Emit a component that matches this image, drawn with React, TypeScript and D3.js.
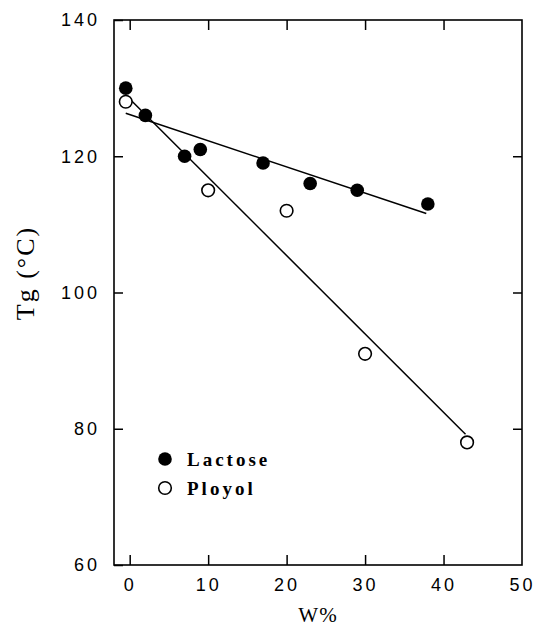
import React, { useEffect, useRef } from "react";
import * as d3 from "d3";

// values
const lactoseW = [-0.5, 2, 7, 9, 17, 23, 29, 38];
const lactoseTg = [130, 126, 120, 121, 119, 116, 115, 113];
const polyolW = [-0.5, 10, 20, 30, 43];
const polyolTg = [128, 115, 112, 91, 78];

// fitted straight lines, endpoints as drawn
const lactoseFitW = [-0.5, 37.8];
const lactoseFitTg = [126.3, 111.6];
const polyolFitW = [-0.5, 42.8];
const polyolFitTg = [129, 79.2];

const xTicks = [0, 10, 20, 30, 40, 50];
const yTicks = [60, 80, 100, 120, 140];
const legendLabels = ["Lactose", "Ployol"];

const W = 536;
const H = 632;
const left = 114;
const right = 522;
const top = 20;
const bottom = 565;

const App = () => {
  const svgRef = useRef<SVGSVGElement>(null);

  useEffect(() => {
    const svg = d3.select(svgRef.current);
    svg.selectAll("*").remove();

    const x = d3.scaleLinear().domain([-2, 50]).range([left, right]);
    const y = d3.scaleLinear().domain([60, 140]).range([bottom, top]);

    const tickFont = "'Liberation Sans', Arial, sans-serif";

    // bottom axis with labels, ticks pointing in
    const gx = svg
      .append("g")
      .attr("transform", `translate(0, ${bottom})`)
      .call(d3.axisBottom(x).tickValues(xTicks).tickSize(-10).tickPadding(13).tickFormat(d3.format("d")));
    gx.select(".domain").remove();
    gx.selectAll("line").attr("stroke", "#000").attr("stroke-width", 1.5);
    gx.selectAll("text")
      .attr("font-family", tickFont)
      .attr("font-size", 18)
      .attr("letter-spacing", 3)
      .attr("fill", "#000");
    gx.selectAll(".tick").filter((d) => d === 50).select("line").remove();

    const gy = svg
      .append("g")
      .attr("transform", `translate(${left}, 0)`)
      .call(d3.axisLeft(y).tickValues(yTicks).tickSize(-9).tickPadding(14).tickFormat(d3.format("d")));
    gy.select(".domain").remove();
    gy.selectAll("line").attr("stroke", "#000").attr("stroke-width", 1.5);
    gy.selectAll("text")
      .attr("font-family", tickFont)
      .attr("font-size", 18)
      .attr("letter-spacing", 3)
      .attr("fill", "#000");

    // top and right: ticks only
    const gt = svg
      .append("g")
      .attr("transform", `translate(0, ${top})`)
      .call(d3.axisTop(x).tickValues(xTicks.slice(0, -1)).tickSize(-10).tickFormat(() => ""));
    gt.select(".domain").remove();
    gt.selectAll("line").attr("stroke", "#000").attr("stroke-width", 1.5);

    const gr = svg
      .append("g")
      .attr("transform", `translate(${right}, 0)`)
      .call(d3.axisRight(y).tickValues(yTicks.slice(1, -1)).tickSize(-9).tickFormat(() => ""));
    gr.select(".domain").remove();
    gr.selectAll("line").attr("stroke", "#000").attr("stroke-width", 1.5);

    // frame
    svg
      .append("rect")
      .attr("x", left)
      .attr("y", top)
      .attr("width", right - left)
      .attr("height", bottom - top)
      .attr("fill", "none")
      .attr("stroke", "#000")
      .attr("stroke-width", 1.6);

    // fit lines
    const line = d3
      .line<[number, number]>()
      .x((d) => x(d[0]))
      .y((d) => y(d[1]));

    const fits: [number, number][][] = [
      lactoseFitW.map((w, i) => [w, lactoseFitTg[i]] as [number, number]),
      polyolFitW.map((w, i) => [w, polyolFitTg[i]] as [number, number]),
    ];
    svg
      .selectAll(".fit")
      .data(fits)
      .join("path")
      .attr("class", "fit")
      .attr("d", (d) => line(d))
      .attr("fill", "none")
      .attr("stroke", "#000")
      .attr("stroke-width", 1.5);

    // polyol points (open)
    svg
      .selectAll(".polyol")
      .data(polyolW.map((w, i) => ({ w, tg: polyolTg[i] })))
      .join("circle")
      .attr("class", "polyol")
      .attr("cx", (d) => x(d.w))
      .attr("cy", (d) => y(d.tg))
      .attr("r", 6.3)
      .attr("fill", "#fff")
      .attr("stroke", "#000")
      .attr("stroke-width", 1.6);

    // lactose points (filled)
    svg
      .selectAll(".lactose")
      .data(lactoseW.map((w, i) => ({ w, tg: lactoseTg[i] })))
      .join("circle")
      .attr("class", "lactose")
      .attr("cx", (d) => x(d.w))
      .attr("cy", (d) => y(d.tg))
      .attr("r", 6.8)
      .attr("fill", "#000");

    // legend
    const lg = svg.append("g");
    legendLabels.forEach((label, i) => {
      const cy = 459 + i * 29;
      lg.append("circle")
        .attr("cx", 165)
        .attr("cy", cy)
        .attr("r", i === 0 ? 6.8 : 6.3)
        .attr("fill", i === 0 ? "#000" : "#fff")
        .attr("stroke", "#000")
        .attr("stroke-width", i === 0 ? 0 : 1.6);
      lg.append("text")
        .attr("x", 187)
        .attr("y", cy + 7)
        .attr("font-family", "'Liberation Serif', 'Times New Roman', serif")
        .attr("font-weight", "bold")
        .attr("font-size", 19)
        .attr("letter-spacing", 3)
        .attr("fill", "#000")
        .text(label);
    });

    // axis titles
    svg
      .append("text")
      .attr("transform", `translate(34, 273) rotate(-90)`)
      .attr("text-anchor", "middle")
      .attr("font-family", "'Liberation Serif', 'Times New Roman', serif")
      .attr("font-size", 26)
      .attr("letter-spacing", 2)
      .attr("fill", "#000")
      .text("Tg (°C)");

    svg
      .append("text")
      .attr("x", 318)
      .attr("y", 622)
      .attr("text-anchor", "middle")
      .attr("font-family", "'Liberation Serif', 'Times New Roman', serif")
      .attr("font-size", 21)
      .attr("letter-spacing", 1)
      .attr("fill", "#000")
      .text("W%");
  }, []);

  return (
    <svg
      ref={svgRef}
      width={W}
      height={H}
      style={{ position: "absolute", left: 0, top: 0, background: "#fff" }}
    />
  );
};

export default App;
